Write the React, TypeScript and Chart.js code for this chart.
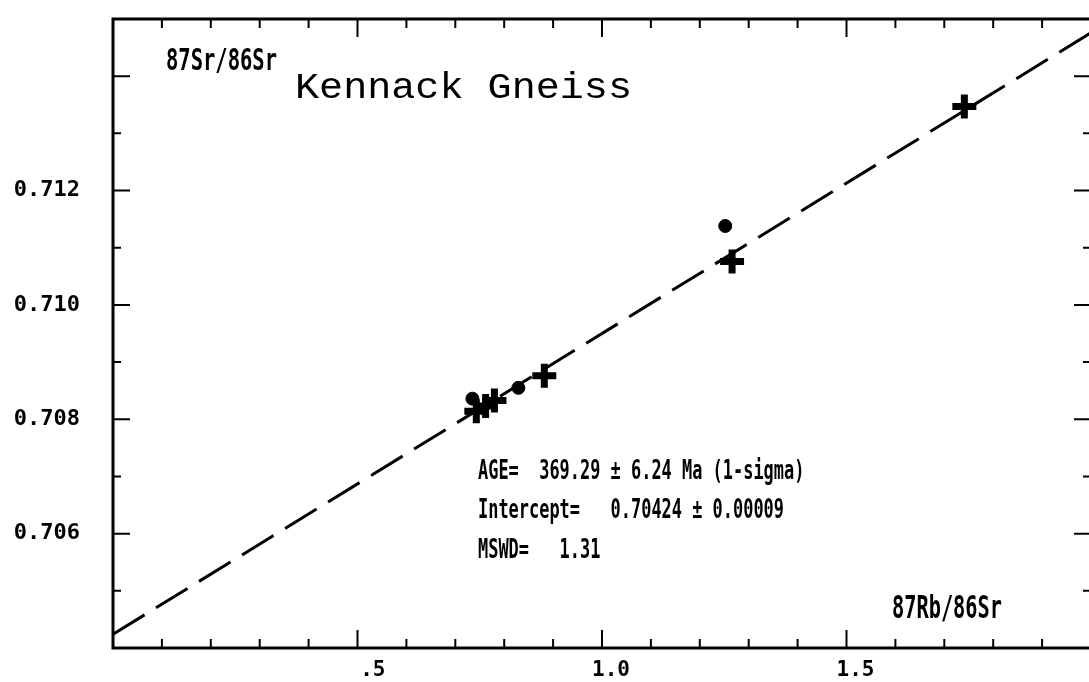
import React, { useEffect, useRef } from "react";
import { Chart, registerables } from "chart.js";

Chart.register(...registerables);

// ---------- data ----------
const crossX = [1.741, 1.266, 0.882, 0.780, 0.762, 0.743];
const crossY = [0.71347, 0.71076, 0.70876, 0.70833, 0.70823, 0.70814];
const dotX = [1.252, 0.829, 0.735];
const dotY = [0.71138, 0.70855, 0.70836];
const isochronX = [0, 2.0];
const isochronY = [0.70424, 0.71476];

const xMin = 0;
const xMax = 2.0;
const xStep = 0.1;
const yMin = 0.704;
const yMax = 0.715;
const yStep = 0.001;

const xLabelValues = [0.5, 1.0, 1.5];
const xLabelTexts = [".5", "1.0", "1.5"];
const xMajorTicks = [0.5, 1.0, 1.5];
const yLabelValues = [0.706, 0.708, 0.71, 0.712];
const yLabelTexts = ["0.706", "0.708", "0.710", "0.712"];
const yMajorTicks = [0.706, 0.708, 0.71, 0.712, 0.714];

const titleText = "Kennack Gneiss";
const yAxisTitle = "87Sr/86Sr";
const xAxisTitle = "87Rb/86Sr";
const statsLines = [
  "AGE=  369.29 \u00B1 6.24 Ma (1-sigma)",
  "Intercept=   0.70424 \u00B1 0.00009",
  "MSWD=   1.31",
];

// ---------- layout / style ----------
const CANVAS_W = 1110;
const CANVAS_H = 682;
const MONO = "'DejaVu Sans Mono', monospace";
const THIN_MONO = "'Liberation Mono', 'DejaVu Sans Mono', monospace";

type TextItem = {
  text: string;
  x: number;
  y: number;
  size: number;
  weight: string;
  family: string;
  width: number; // target width (px)
};

const textItems: TextItem[] = [
  { text: yAxisTitle, x: 166, y: 70, size: 31, weight: "bold", family: MONO, width: 111 },
  { text: titleText, x: 295, y: 98, size: 37, weight: "normal", family: THIN_MONO, width: 337 },
  { text: xAxisTitle, x: 892, y: 618, size: 32, weight: "bold", family: MONO, width: 110 },
  { text: statsLines[0], x: 478, y: 479, size: 26, weight: "bold", family: MONO, width: statsLines[0].length * 10.2 },
  { text: statsLines[1], x: 478, y: 518, size: 26, weight: "bold", family: MONO, width: statsLines[1].length * 10.2 },
  { text: statsLines[2], x: 478, y: 558, size: 26, weight: "bold", family: MONO, width: statsLines[2].length * 10.2 },
];

const near = (a: number, b: number) => Math.abs(a - b) < 1e-7;

const framePlugin = {
  id: "frame",
  afterDatasetsDraw(chart: any) {
    const { ctx, chartArea } = chart;
    const { left, right, top, bottom } = chartArea;
    const xs = chart.scales.x;
    const ys = chart.scales.y;
    ctx.save();
    ctx.strokeStyle = "#000";
    ctx.lineCap = "butt";
    ctx.lineWidth = 2;
    xs.ticks.forEach((t: any) => {
      const px = xs.getPixelForValue(t.value);
      const len = xMajorTicks.some((m) => near(m, t.value)) ? 18 : 9;
      ctx.beginPath();
      ctx.moveTo(px, bottom);
      ctx.lineTo(px, bottom - len);
      ctx.moveTo(px, top);
      ctx.lineTo(px, top + len);
      ctx.stroke();
    });
    ys.ticks.forEach((t: any) => {
      const py = ys.getPixelForValue(t.value);
      const len = yMajorTicks.some((m) => near(m, t.value)) ? 17 : 8;
      ctx.beginPath();
      ctx.moveTo(left, py);
      ctx.lineTo(left + len, py);
      ctx.moveTo(right, py);
      ctx.lineTo(right - len, py);
      ctx.stroke();
    });
    ctx.lineWidth = 3;
    ctx.strokeRect(left, top, right - left, bottom - top);
    ctx.restore();
  },
  afterDraw(chart: any) {
    const { ctx } = chart;
    ctx.save();
    ctx.fillStyle = "#000";
    ctx.textBaseline = "alphabetic";
    ctx.textAlign = "left";
    textItems.forEach((it) => {
      ctx.font = `${it.weight} ${it.size}px ${it.family}`;
      const w = ctx.measureText(it.text).width;
      const sx = it.width / w;
      ctx.save();
      ctx.translate(it.x, it.y);
      ctx.scale(sx, 1);
      ctx.fillText(it.text, 0, 0);
      ctx.restore();
    });
    ctx.restore();
  },
};

const bgPlugin = {
  id: "bg",
  beforeDraw(chart: any) {
    const { ctx, width, height } = chart;
    ctx.save();
    ctx.fillStyle = "#fff";
    ctx.fillRect(0, 0, width, height);
    ctx.restore();
  },
};

export default function App() {
  const ref = useRef<HTMLCanvasElement | null>(null);

  useEffect(() => {
    if (!ref.current) return;
    const chart = new Chart(ref.current, {
      type: "scatter",
      data: {
        datasets: [
          {
            label: "Isochron",
            data: isochronX.map((x, i) => ({ x, y: isochronY[i] })),
            showLine: true,
            borderColor: "#000",
            borderWidth: 3,
            borderDash: [37, 13.5],
            pointRadius: 0,
            fill: false,
          },
          {
            label: "Whole rock",
            data: crossX.map((x, i) => ({ x, y: crossY[i] })),
            pointStyle: "cross",
            pointRadius: 12,
            borderWidth: 7,
            borderColor: "#000",
            backgroundColor: "#000",
          },
          {
            label: "Mineral",
            data: dotX.map((x, i) => ({ x, y: dotY[i] })),
            pointStyle: "circle",
            pointRadius: 6.5,
            borderWidth: 1,
            borderColor: "#000",
            backgroundColor: "#000",
          },
        ],
      },
      options: {
        animation: false,
        responsive: false,
        events: [],
        layout: { padding: { left: 0, top: 13, right: CANVAS_W - 1094, bottom: 0 } },
        plugins: {
          legend: { display: false },
          tooltip: { enabled: false },
          title: { display: false },
        },
        scales: {
          x: {
            type: "linear",
            min: xMin,
            max: xMax,
            grid: { display: false, drawTicks: false },
            border: { display: false },
            afterFit: (s: any) => {
              s.height = CANVAS_H - 648;
              s.paddingLeft = 0;
              s.paddingRight = 0;
            },
            ticks: {
              stepSize: xStep,
              autoSkip: false,
              maxRotation: 0,
              padding: 10,
              labelOffset: 9,
              color: "#000",
              font: { family: MONO, size: 21, weight: "bold" },
              callback: (v: any) => {
                const i = xLabelValues.findIndex((l) => near(l, Number(v)));
                return i >= 0 ? xLabelTexts[i].padStart(3, " ") : "";
              },
            },
          },
          y: {
            type: "linear",
            min: yMin,
            max: yMax,
            grid: { display: false, drawTicks: false },
            border: { display: false },
            afterFit: (s: any) => {
              s.width = 113;
              s.paddingTop = 0;
              s.paddingBottom = 0;
            },
            ticks: {
              stepSize: yStep,
              autoSkip: false,
              padding: 33,
              color: "#000",
              font: { family: MONO, size: 22, weight: "bold" },
              callback: (v: any) => {
                const i = yLabelValues.findIndex((l) => near(l, Number(v)));
                return i >= 0 ? yLabelTexts[i] : "";
              },
            },
          },
        },
      },
      plugins: [bgPlugin, framePlugin],
    });
    return () => chart.destroy();
  }, []);

  return (
    <div
      style={{
        position: "fixed",
        left: 0,
        top: 0,
        width: 1089,
        height: 682,
        overflow: "hidden",
        background: "#fff",
      }}
    >
      <canvas ref={ref} width={CANVAS_W} height={CANVAS_H} style={{ display: "block" }} />
    </div>
  );
}
